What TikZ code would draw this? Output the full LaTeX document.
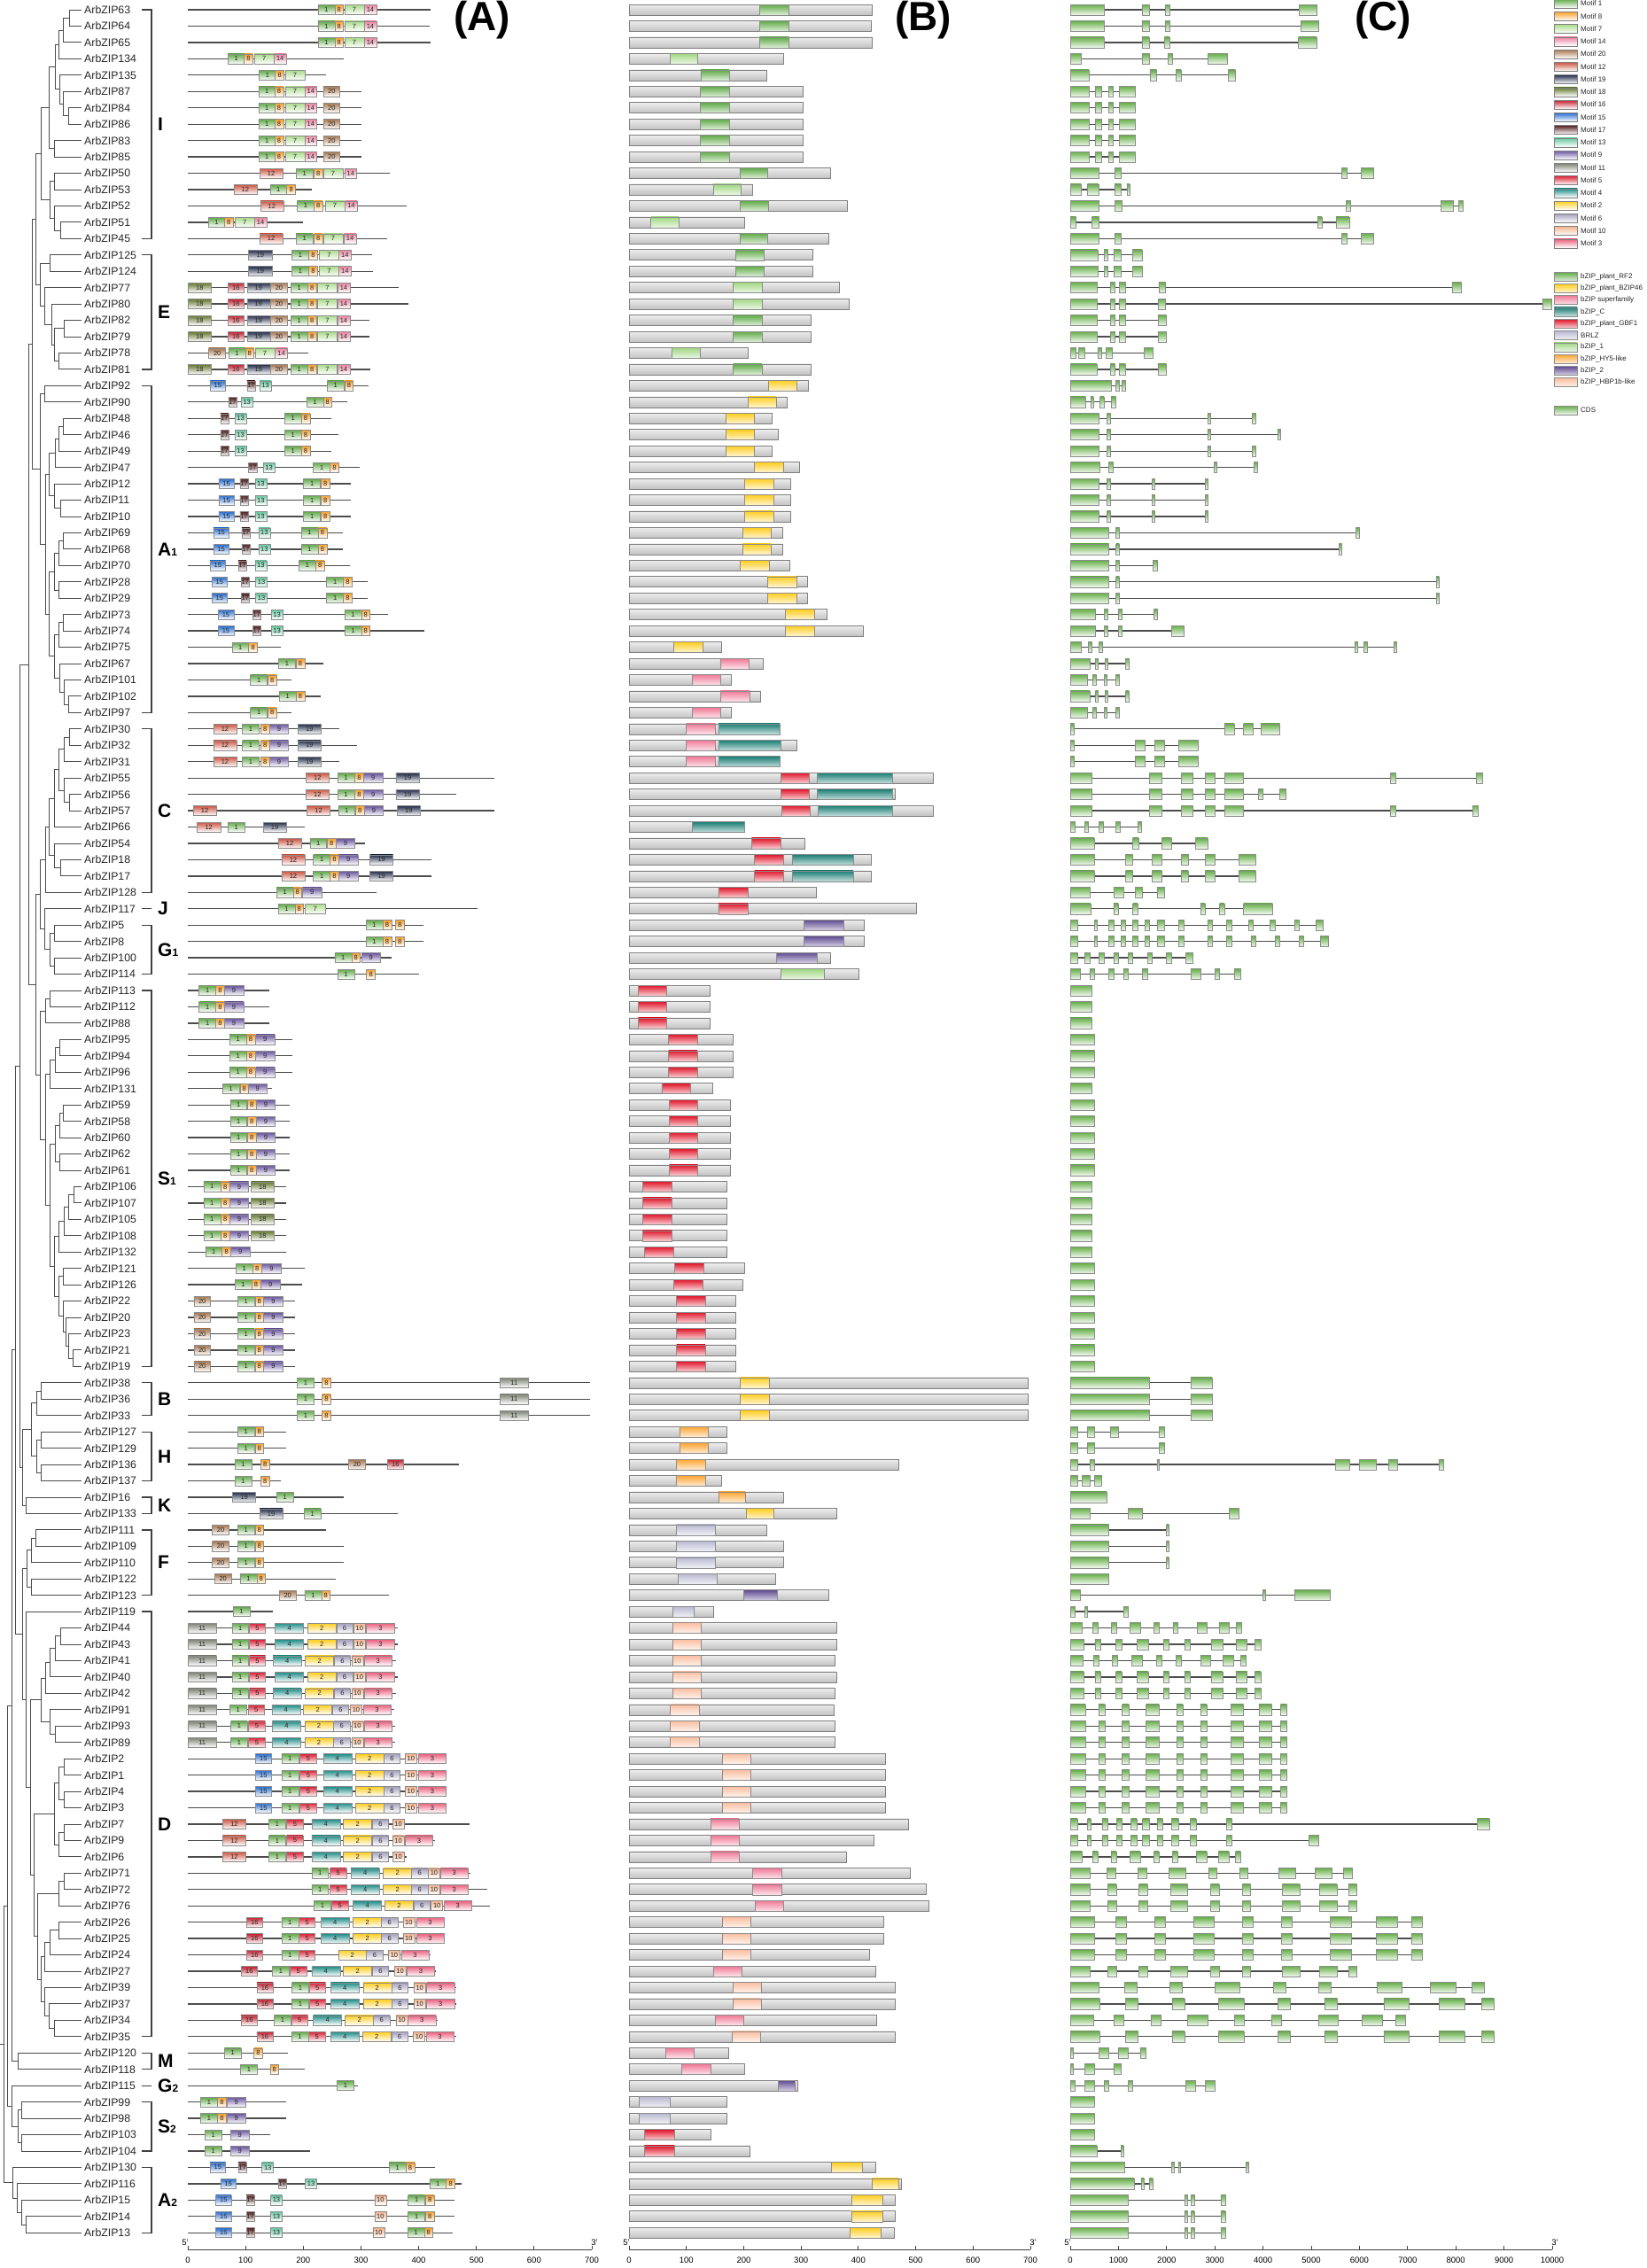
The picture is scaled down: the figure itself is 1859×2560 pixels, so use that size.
\documentclass[tikz,border=0pt]{standalone}
\usepackage{fontspec}
\setmainfont{Liberation Sans}
\definecolor{c1}{RGB}{96,170,70}
\definecolor{c8}{RGB}{250,160,40}
\definecolor{c7}{RGB}{170,220,140}
\definecolor{c14}{RGB}{235,130,160}
\definecolor{c20}{RGB}{170,120,80}
\definecolor{c12}{RGB}{205,85,65}
\definecolor{c19}{RGB}{35,45,75}
\definecolor{c18}{RGB}{100,120,45}
\definecolor{c16}{RGB}{195,30,45}
\definecolor{c15}{RGB}{40,110,210}
\definecolor{c17}{RGB}{85,30,30}
\definecolor{c13}{RGB}{100,200,160}
\definecolor{c9}{RGB}{105,85,160}
\definecolor{c11}{RGB}{125,130,115}
\definecolor{c5}{RGB}{220,30,50}
\definecolor{c4}{RGB}{30,140,135}
\definecolor{c2}{RGB}{255,205,30}
\definecolor{c6}{RGB}{165,160,190}
\definecolor{c10}{RGB}{245,180,140}
\definecolor{c3}{RGB}{235,95,125}
\definecolor{drf2}{RGB}{95,170,70}
\definecolor{db46}{RGB}{255,205,30}
\definecolor{dsup}{RGB}{240,120,150}
\definecolor{dbzc}{RGB}{25,125,115}
\definecolor{dgbf}{RGB}{225,20,40}
\definecolor{dbrlz}{RGB}{185,185,210}
\definecolor{dbz1}{RGB}{160,215,130}
\definecolor{dhy5}{RGB}{255,165,50}
\definecolor{dbz2}{RGB}{95,75,145}
\definecolor{dhbp}{RGB}{250,190,160}
\definecolor{dcds}{RGB}{100,175,70}
\tikzset{
  seq/.style={draw=black!70,line width=1.3pt},
  tree/.style={draw=black!70,line width=0.9pt},
  brk/.style={draw=black!75,line width=1.3pt},
  mbox/.style={draw=black!45,line width=0.5pt,inner sep=0pt,minimum height=11pt,anchor=west,font=\fontsize{7.5}{8}\selectfont,text=black!85},
  m1/.style={top color=c1,bottom color=white,minimum width=18.9pt},
  m8/.style={top color=c8,bottom color=white,minimum width=9.8pt},
  m7/.style={top color=c7,bottom color=white,minimum width=22.2pt},
  m14/.style={top color=c14,bottom color=white,minimum width=13.7pt},
  m20/.style={top color=c20,bottom color=white,minimum width=18.9pt},
  m12/.style={top color=c12,bottom color=white,minimum width=26.1pt},
  m19/.style={top color=c19,bottom color=white,minimum width=26.1pt},
  m18/.style={top color=c18,bottom color=white,minimum width=26.1pt},
  m16/.style={top color=c16,bottom color=white,minimum width=18.3pt},
  m15/.style={top color=c15,bottom color=white,minimum width=17.6pt},
  m17/.style={top color=c17,bottom color=white,minimum width=9.1pt},
  m13/.style={top color=c13,bottom color=white,minimum width=13pt},
  m11/.style={top color=c11,bottom color=white,minimum width=32pt},
  m5/.style={top color=c5,bottom color=white,minimum width=18.3pt},
  m4/.style={top color=c4,bottom color=white,minimum width=32pt},
  m2/.style={top color=c2,bottom color=white,minimum width=32pt},
  m6/.style={top color=c6,bottom color=white,minimum width=18.3pt},
  m10/.style={top color=c10,bottom color=white,minimum width=13pt},
  m3/.style={top color=c3,bottom color=white,minimum width=31.3pt},
  m9/.style={top color=c9,bottom color=white,minimum width=21.5pt},
  bbar/.style={draw=black!50,line width=0.6pt,top color=black!7,bottom color=black!24},
  dom/.style={draw=black!45,line width=0.5pt},
  rf2/.style={top color=drf2,bottom color=drf2!20!white},
  b46/.style={top color=db46,bottom color=db46!20!white},
  sup/.style={top color=dsup,bottom color=dsup!20!white},
  bzc/.style={top color=dbzc,bottom color=dbzc!25!white},
  gbf/.style={top color=dgbf,bottom color=dgbf!20!white},
  brlz/.style={top color=dbrlz,bottom color=dbrlz!20!white},
  bz1/.style={top color=dbz1,bottom color=dbz1!20!white},
  hy5/.style={top color=dhy5,bottom color=dhy5!20!white},
  bz2/.style={top color=dbz2,bottom color=dbz2!25!white},
  hbp/.style={top color=dhbp,bottom color=dhbp!20!white},
  exon/.style={draw=black!45,line width=0.5pt,top color=dcds,bottom color=dcds!8!white},
  gname/.style={anchor=west,inner sep=0pt,font=\fontsize{12.3}{13}\selectfont,text=black!85},
  glab/.style={anchor=west,inner sep=0pt,font=\fontsize{21}{22}\selectfont\bfseries},
  panel/.style={anchor=base,inner sep=0pt,font=\fontsize{46}{48}\selectfont\bfseries},
  leg/.style={anchor=west,inner sep=0pt,font=\fontsize{8}{9}\selectfont,text=black!85},
  tick/.style={inner sep=0pt,font=\fontsize{9.5}{10}\selectfont},
  axis/.style={draw=black!75,line width=0.9pt}
}
\newcommand\Arow[3]{%
  \draw[seq] (212,{ry(#1)}) -- ({212+0.652*#2},{ry(#1)});
  \foreach \m/\s in {#3}{\node[mbox,m\m] (A#1-\m-\s) at ({212+0.652*\s},{ry(#1)}) {\m};}%
}
\newcommand\Brow[3]{%
  \draw[bbar] (710,{ry(#1)-6}) rectangle ({710+0.6466*#2},{ry(#1)+6});
  \foreach \t/\a/\b in {#3}{\draw[dom,\t] ({710+0.6466*\a},{ry(#1)-6}) rectangle ({710+0.6466*\b},{ry(#1)+6});}%
}
\newcommand\Crow[3]{%
  \draw[seq] (1208,{ry(#1)}) -- ({1208+0.05436*#2},{ry(#1)});
  \foreach \a/\b in {#3}{\draw[exon] ({1208+0.05436*\a},{ry(#1)-6}) rectangle ({1208+0.05436*\b},{ry(#1)+6});}%
}
\newcommand\Dg[2]{\Crow{#1}{#2}{0/0.07*#2,0.13*#2/0.16*#2,0.24*#2/0.27*#2,0.35*#2/0.41*#2,0.49*#2/0.52*#2,0.60*#2/0.63*#2,0.74*#2/0.80*#2,0.87*#2/0.93*#2,0.97*#2/#2}}
\newcommand\Tj[4]{%
  \edef\tya{\csname ty@#3\endcsname}\edef\tyb{\csname ty@#4\endcsname}%
  \edef\txa{\csname tx@#3\endcsname}\edef\txb{\csname tx@#4\endcsname}%
  \draw[tree] (\txa,\tya) -- (#2,\tya) -- (#2,\tyb) -- (\txb,\tyb);
  \pgfmathsetmacro\tym{(\tya+\tyb)/2}%
  \expandafter\xdef\csname ty@#1\endcsname{\tym}%
  \expandafter\xdef\csname tx@#1\endcsname{#2}%
}
\newcommand\Grp[4]{%
  \draw[brk] (160,{ry(#1)}) -- (171,{ry(#1)}) -- (171,{ry(#2)}) -- (160,{ry(#2)});
  \node[glab] (g#3#4) at (178,{(ry(#1)+ry(#2))/2}) {#3{\fontsize{12}{12}\selectfont #4}};
}
\newcommand\Axis[5]{%
  \draw[axis] (#1,2539) -- (#2,2539);
  \foreach \k in {0,...,#3}{%
    \pgfmathsetmacro\xx{#1+(#2-#1)*\k/#3}%
    \pgfmathtruncatemacro\lab{\k*#4}%
    \draw[axis] (\xx,2539) -- (\xx,2535);
    \node[tick] (t#5\k) at (\xx,2551) {\lab};}%
  \node[tick] (f#5) at (#1-3,2531) {5'};
  \node[tick] (e#5) at (#2+3,2531) {3'};
}
\begin{document}
\begin{tikzpicture}[x=1pt,y=-1pt,declare function={ry(\r)=11+18.45*(\r-1);}]
\useasboundingbox (0,0) rectangle (1859,2560);
\fill[white] (0,0) rectangle (1859,2560);
% ---------- names ----------
\foreach \nm [count=\i] in {63,64,65,134,135,87,84,86,83,85,50,53,52,51,45,125,124,77,80,82,79,78,81,92,90,48,46,49,47,12,11,10,69,68,70,28,29,73,74,75,67,101,102,97,30,32,31,55,56,57,66,54,18,17,128,117,5,8,100,114,113,112,88,95,94,96,131,59,58,60,62,61,106,107,105,108,132,121,126,22,20,23,21,19,38,36,33,127,129,136,137,16,133,111,109,110,122,123,119,44,43,41,40,42,91,93,89,2,1,4,3,7,9,6,71,72,76,26,25,24,27,39,37,34,35,120,118,115,99,98,103,104,130,116,15,14,13}{%
  \node[gname] (nm\i) at (95,{ry(\i)}) {ArbZIP\nm};
  \pgfmathsetmacro\yy{ry(\i)}%
  \expandafter\xdef\csname ty@r\i\endcsname{\yy}%
  \expandafter\xdef\csname tx@r\i\endcsname{92}%
}
% ---------- tree ----------
\Tj{n1}{78}{r1}{r2}\Tj{n2}{71}{n1}{r3}\Tj{n3}{66}{n2}{r4}\Tj{n4}{77}{r7}{r8}\Tj{n5}{71}{r6}{n4}
\Tj{n6}{67}{r5}{n5}\Tj{n7}{62}{n3}{n6}\Tj{n8}{61}{r9}{r10}\Tj{n9}{55}{n7}{n8}\Tj{n10}{61}{r11}{r12}
\Tj{n11}{68}{r14}{r15}\Tj{n12}{61}{r13}{n11}\Tj{n13}{56}{n10}{n12}\Tj{n14}{46}{n9}{n13}
\Tj{e1}{56}{r16}{r17}\Tj{e2}{72}{r20}{r21}\Tj{e3}{66}{r22}{r23}\Tj{e4}{61}{e2}{e3}\Tj{e5}{58}{r19}{e4}
\Tj{e6}{50}{r18}{e5}\Tj{e7}{45}{e1}{e6}\Tj{ie}{40}{n14}{e7}
\Tj{a1}{50}{r24}{r25}\Tj{a2}{71}{r26}{r27}\Tj{a3}{66}{a2}{r28}\Tj{a4}{62}{a3}{r29}\Tj{a5}{68}{r31}{r32}
\Tj{a6}{61}{r30}{a5}\Tj{a7}{55}{a4}{a6}\Tj{a8}{71}{r33}{r34}\Tj{a9}{66}{a8}{r35}\Tj{a10}{66}{r36}{r37}
\Tj{a11}{61}{a9}{a10}\Tj{a12}{71}{r38}{r39}\Tj{a13}{66}{a12}{r40}\Tj{a14}{77}{r43}{r44}\Tj{a15}{72}{r42}{a14}
\Tj{a16}{67}{r41}{a15}\Tj{a17}{61}{a13}{a16}\Tj{a18}{55}{a11}{a17}\Tj{a19}{51}{a7}{a18}\Tj{a20}{45}{a1}{a19}
\Tj{t1}{36}{ie}{a20}
\Tj{c1}{78}{r45}{r46}\Tj{c2}{72}{c1}{r47}\Tj{c3}{78}{r49}{r50}\Tj{c4}{72}{r48}{c3}\Tj{c5}{66}{c2}{c4}
\Tj{c6}{61}{c5}{r51}\Tj{c7}{68}{r53}{r54}\Tj{c8}{61}{r52}{c7}\Tj{c9}{55}{c6}{c8}\Tj{c10}{51}{c9}{r55}
\Tj{g1}{61}{r57}{r58}\Tj{g2}{61}{r59}{r60}\Tj{g3}{56}{g1}{g2}\Tj{j1}{50}{r56}{g3}\Tj{cj}{45}{c10}{j1}
\Tj{s1}{56}{r61}{r62}\Tj{s2}{51}{s1}{r63}\Tj{s3}{67}{r64}{r65}\Tj{s4}{62}{s3}{r66}\Tj{s5}{56}{s4}{r67}
\Tj{s6}{71}{r68}{r69}\Tj{s6b}{67}{s6}{r70}\Tj{s7}{67}{r71}{r72}\Tj{s9}{62}{s6b}{s7}
\Tj{s11}{83}{r73}{r74}\Tj{s12}{77}{s11}{r75}\Tj{s13}{72}{s12}{r76}\Tj{s14}{66}{s13}{r77}\Tj{s15}{71}{r78}{r79}
\Tj{s16}{82}{r83}{r84}\Tj{s17}{77}{r82}{s16}\Tj{s18}{74}{r81}{s17}\Tj{s19}{71}{r80}{s18}\Tj{s20}{66}{s15}{s19}
\Tj{s21}{61}{s14}{s20}\Tj{s22}{56}{s9}{s21}\Tj{s23}{51}{s5}{s22}\Tj{s24}{45}{s2}{s23}\Tj{cs}{40}{cj}{s24}
\Tj{t2}{32}{t1}{cs}
\Tj{b1}{46}{r85}{r86}\Tj{b2}{41}{b1}{r87}\Tj{h1}{46}{r88}{r89}\Tj{h2}{46}{r90}{r91}\Tj{h3}{41}{h1}{h2}
\Tj{bh}{35}{b2}{h3}\Tj{k1}{29}{r92}{r93}\Tj{bhk}{25}{bh}{k1}\Tj{t3}{22}{t2}{bhk}
\Tj{f1}{40}{r94}{r95}\Tj{f2}{35}{f1}{r96}\Tj{f3}{35}{r97}{r98}\Tj{f4}{30}{f2}{f3}
\Tj{d1}{68}{r100}{r101}\Tj{d2}{62}{d1}{r102}\Tj{d3}{56}{d2}{r103}\Tj{d4}{51}{d3}{r104}\Tj{d5a}{62}{r106}{r107}
\Tj{d5}{56}{r105}{d5a}\Tj{d6}{46}{d4}{d5}\Tj{d7}{72}{r108}{r109}\Tj{d8}{72}{r110}{r111}\Tj{d9}{66}{d7}{d8}
\Tj{d10}{72}{r112}{r113}\Tj{d11}{66}{d10}{r114}\Tj{d12}{61}{d9}{d11}\Tj{d13}{72}{r115}{r116}\Tj{d14}{66}{d13}{r117}
\Tj{d15}{66}{r118}{r119}\Tj{d16}{56}{d15}{r120}\Tj{d17}{50}{d16}{r121}\Tj{d18}{61}{r124}{r125}\Tj{d19}{55}{r123}{d18}
\Tj{d20}{50}{r122}{d19}\Tj{d21}{46}{d17}{d20}\Tj{d22}{42}{d14}{d21}\Tj{d23}{38}{d12}{d22}\Tj{d24}{34}{d6}{d23}
\Tj{d25}{29}{r99}{d24}\Tj{fd}{25}{f4}{d25}\Tj{t4}{17}{t3}{fd}
\Tj{mm}{20}{r126}{r127}\Tj{t5}{13}{t4}{mm}
\Tj{q1}{24}{r129}{r130}\Tj{q2}{24}{r131}{r132}\Tj{q3}{20}{q1}{q2}\Tj{q4}{13}{r128}{q3}\Tj{t6}{8}{t5}{q4}
\Tj{p1}{29}{r136}{r137}\Tj{p2}{24}{r135}{p1}\Tj{p3}{19}{r134}{p2}\Tj{p4}{14}{r133}{p3}\Tj{t7}{4}{t6}{p4}
\draw[tree] (0,\csname ty@t7\endcsname) -- (4,\csname ty@t7\endcsname);
% ---------- groups ----------
\Grp{1}{15}{I}{}\Grp{16}{23}{E}{}\Grp{24}{44}{A}{1}\Grp{45}{55}{C}{}\Grp{56}{56}{J}{}
\Grp{57}{60}{G}{1}\Grp{61}{84}{S}{1}\Grp{85}{87}{B}{}\Grp{88}{91}{H}{}\Grp{92}{93}{K}{}
\Grp{94}{98}{F}{}\Grp{99}{125}{D}{}\Grp{126}{127}{M}{}\Grp{128}{128}{G}{2}\Grp{129}{132}{S}{2}
\Grp{133}{137}{A}{2}
% ---------- panel labels ----------
\node[panel] (PA) at (544,34) {(A)};
\node[panel] (PB) at (1042,34) {(B)};
\node[panel] (PC) at (1561,34) {(C)};
% ---------- (A) motifs ----------
\Arow{1}{420}{1/225,8/254,7/271,14/305}
\Arow{2}{418}{1/225,8/254,7/271,14/305}
\Arow{3}{420}{1/225,8/254,7/271,14/305}
\Arow{4}{270}{1/69,8/97,7/115,14/149}
\Arow{5}{240}{1/123,8/151,7/168}
\Arow{6}{301}{1/122,8/150,7/168,14/202,20/234}
\Arow{7}{301}{1/122,8/150,7/168,14/202,20/234}
\Arow{8}{301}{1/122,8/150,7/168,14/202,20/234}
\Arow{9}{301}{1/122,8/150,7/168,14/202,20/234}
\Arow{10}{300}{1/122,8/150,7/168,14/202,20/234}
\Arow{11}{349}{12/124,1/187,8/218,7/234,14/271}
\Arow{12}{215}{12/79,1/142,8/171}
\Arow{13}{379}{12/125,1/189,8/218,7/237,14/272}
\Arow{14}{200}{1/35,8/63,7/81,14/115}
\Arow{15}{345}{12/124,1/187,8/218,7/234,14/270}
\Arow{16}{319}{19/105,1/180,8/209,7/227,14/261}
\Arow{17}{320}{19/105,1/180,8/209,7/227,14/261}
\Arow{18}{365}{18/0,16/69,19/102,20/143,1/178,8/207,7/224,14/259}
\Arow{19}{382}{18/0,16/69,19/102,20/143,1/178,8/207,7/224,14/259}
\Arow{20}{315}{18/0,16/69,19/102,20/143,1/178,8/207,7/224,14/259}
\Arow{21}{315}{18/0,16/69,19/102,20/143,1/178,8/207,7/224,14/259}
\Arow{22}{208}{20/36,1/70,8/99,7/116,14/151}
\Arow{23}{316}{18/0,16/69,19/102,20/143,1/178,8/207,7/224,14/259}
\Arow{24}{313}{15/38,17/102,13/124,1/241,8/271}
\Arow{25}{276}{17/70,13/92,1/205,8/234}
\Arow{26}{249}{17/56,13/81,1/167,8/196}
\Arow{27}{261}{17/56,13/81,1/167,8/196}
\Arow{28}{249}{17/56,13/81,1/167,8/196}
\Arow{29}{298}{17/105,13/130,1/217,8/246}
\Arow{30}{282}{15/53,17/90,13/116,1/200,8/230}
\Arow{31}{282}{15/53,17/90,13/116,1/200,8/230}
\Arow{32}{282}{15/53,17/90,13/116,1/200,8/230}
\Arow{33}{268}{15/44,17/93,13/122,1/196,8/225}
\Arow{34}{268}{15/44,17/93,13/122,1/196,8/225}
\Arow{35}{280}{15/38,17/87,13/116,1/192,8/221}
\Arow{36}{311}{15/41,17/92,13/117,1/240,8/269}
\Arow{37}{311}{15/41,17/92,13/117,1/240,8/269}
\Arow{38}{346}{15/52,17/112,13/144,1/271,8/300}
\Arow{39}{409}{15/52,17/112,13/144,1/271,8/300}
\Arow{40}{161}{1/76,8/105}
\Arow{41}{234}{1/157,8/187}
\Arow{42}{179}{1/108,8/138}
\Arow{43}{230}{1/158,8/187}
\Arow{44}{179}{1/108,8/138}
\Arow{45}{263}{12/44,1/94,8/126,9/141,19/190}
\Arow{46}{293}{12/44,1/94,8/126,9/141,19/190}
\Arow{47}{263}{12/44,1/94,8/126,9/141,19/190}
\Arow{48}{531}{12/204,1/259,8/289,9/304,19/360}
\Arow{49}{465}{12/204,1/259,8/289,9/304,19/360}
\Arow{50}{531}{12/9,12/206,1/260,8/290,9/305,19/362}
\Arow{51}{202}{12/16,1/69,19/130}
\Arow{52}{307}{12/156,1/211,8/241,9/256}
\Arow{53}{422}{12/162,1/217,8/246,9/261,19/315}
\Arow{54}{422}{12/162,1/217,8/246,9/261,19/315}
\Arow{55}{326}{1/153,8/182,9/198}
\Arow{56}{501}{1/156,8/185,7/203}
\Arow{57}{408}{1/308,8/337,8/359}
\Arow{58}{408}{1/308,8/337,8/359}
\Arow{59}{352}{1/254,8/283,9/300}
\Arow{60}{401}{1/259,8/309}
\Arow{61}{141}{1/19,8/48,9/63}
\Arow{62}{141}{1/19,8/48,9/63}
\Arow{63}{141}{1/19,8/48,9/63}
\Arow{64}{181}{1/72,8/101,9/117}
\Arow{65}{181}{1/72,8/101,9/117}
\Arow{66}{181}{1/72,8/101,9/117}
\Arow{67}{146}{1/60,8/90,9/104}
\Arow{68}{176}{1/73,8/103,9/118}
\Arow{69}{176}{1/73,8/103,9/118}
\Arow{70}{176}{1/73,8/103,9/118}
\Arow{71}{176}{1/73,8/103,9/118}
\Arow{72}{176}{1/73,8/103,9/118}
\Arow{73}{171}{1/27,8/57,9/72,18/109}
\Arow{74}{171}{1/27,8/57,9/72,18/109}
\Arow{75}{171}{1/27,8/57,9/72,18/109}
\Arow{76}{171}{1/27,8/57,9/72,18/109}
\Arow{77}{171}{1/30,8/59,9/74}
\Arow{78}{202}{1/83,8/112,9/128}
\Arow{79}{198}{1/81,8/110,9/126}
\Arow{80}{186}{20/10,1/86,8/116,9/131}
\Arow{81}{186}{20/10,1/86,8/116,9/131}
\Arow{82}{186}{20/10,1/86,8/116,9/131}
\Arow{83}{186}{20/10,1/86,8/116,9/131}
\Arow{84}{186}{20/10,1/86,8/116,9/131}
\Arow{85}{696}{1/189,8/232,11/540}
\Arow{86}{696}{1/189,8/232,11/540}
\Arow{87}{696}{1/189,8/232,11/540}
\Arow{88}{170}{1/86,8/116}
\Arow{89}{170}{1/86,8/116}
\Arow{90}{470}{1/81,8/126,20/278,16/345}
\Arow{91}{161}{1/81,8/126}
\Arow{92}{270}{19/77,1/153}
\Arow{93}{363}{19/124,1/201}
\Arow{94}{240}{20/42,1/86,8/116}
\Arow{95}{270}{20/42,1/86,8/116}
\Arow{96}{270}{20/42,1/86,8/116}
\Arow{97}{256}{20/46,1/90,8/119}
\Arow{98}{348}{20/158,1/202,8/231}
\Arow{99}{147}{1/78}
\Arow{100}{363}{11/0,1/76,5/106,4/151,2/207,6/257,10/287,3/309}
\Arow{101}{363}{11/0,1/76,5/106,4/151,2/207,6/257,10/287,3/309}
\Arow{102}{360}{11/0,1/76,5/106,4/147,2/203,6/253,10/283,3/305}
\Arow{103}{363}{11/0,1/76,5/106,4/151,2/207,6/257,10/287,3/309}
\Arow{104}{360}{11/0,1/76,5/106,4/147,2/203,6/253,10/283,3/305}
\Arow{105}{357}{11/0,1/72,5/104,4/145,2/200,6/250,10/281,3/303}
\Arow{106}{359}{11/0,1/74,5/105,4/146,2/202,6/252,10/283,3/305}
\Arow{107}{359}{11/0,1/74,5/105,4/146,2/202,6/252,10/283,3/305}
\Arow{108}{447}{15/117,1/162,5/194,4/234,2/290,6/339,10/376,3/399}
\Arow{109}{447}{15/117,1/162,5/194,4/234,2/290,6/339,10/376,3/399}
\Arow{110}{447}{15/117,1/162,5/194,4/234,2/290,6/339,10/376,3/399}
\Arow{111}{447}{15/117,1/162,5/194,4/234,2/290,6/339,10/376,3/399}
\Arow{112}{488}{12/60,1/140,5/171,4/214,2/269,6/319,10/354}
\Arow{113}{428}{12/60,1/140,5/171,4/214,2/269,6/319,10/354,3/376}
\Arow{114}{379}{12/60,1/140,5/171,4/214,2/269,6/319,10/354}
\Arow{115}{490}{1/214,5/246,4/282,2/338,6/387,10/416,3/437}
\Arow{116}{519}{1/214,5/246,4/282,2/338,6/387,10/416,3/437}
\Arow{117}{523}{1/218,5/249,4/286,2/341,6/391,10/421,3/443}
\Arow{118}{445}{16/101,1/162,5/192,4/230,2/286,6/335,10/372,3/395}
\Arow{119}{445}{16/101,1/162,5/192,4/230,2/286,6/335,10/372,3/395}
\Arow{120}{420}{16/101,1/162,5/192,2/260,6/309,10/347,3/369}
\Arow{121}{430}{16/92,1/146,5/177,4/214,2/269,6/319,10/357,3/379}
\Arow{122}{464}{16/119,1/180,5/210,4/247,2/303,6/353,10/391,3/413}
\Arow{123}{464}{16/119,1/180,5/210,4/247,2/303,6/353,10/391,3/413}
\Arow{124}{432}{16/92,1/149,5/179,4/217,2/272,6/321,10/360,3/381}
\Arow{125}{464}{16/119,1/179,5/209,4/247,2/302,6/352,10/390,3/412}
\Arow{126}{174}{1/63,8/114}
\Arow{127}{202}{1/91,8/142}
\Arow{128}{294}{1/258}
\Arow{129}{170}{1/22,8/51,9/67}
\Arow{130}{170}{1/22,8/51,9/67}
\Arow{131}{142}{1/29,9/73}
\Arow{132}{211}{1/29,9/73}
\Arow{133}{428}{15/38,17/87,13/128,1/348,8/377}
\Arow{134}{474}{15/56,17/156,13/203,1/418,8/447}
\Arow{135}{462}{15/48,17/101,13/143,10/323,1/381,8/411}
\Arow{136}{462}{15/48,17/101,13/143,10/323,1/381,8/411}
\Arow{137}{459}{15/48,17/101,13/143,10/320,1/380,8/409}
% ---------- (B) domains ----------
\Brow{1}{424}{rf2/228/279}\Brow{2}{422}{rf2/228/279}\Brow{3}{424}{rf2/228/279}
\Brow{4}{270}{bz1/72/120}\Brow{5}{240}{rf2/125/175}
\Brow{6}{304}{rf2/124/175}\Brow{7}{304}{rf2/124/175}\Brow{8}{304}{rf2/124/175}\Brow{9}{304}{rf2/124/175}\Brow{10}{303}{rf2/124/175}
\Brow{11}{352}{rf2/193/242}\Brow{12}{215}{bz1/147/196}\Brow{13}{381}{rf2/193/243}\Brow{14}{202}{bz1/38/87}\Brow{15}{348}{rf2/193/242}
\Brow{16}{321}{rf2/186/236}\Brow{17}{321}{rf2/186/236}\Brow{18}{367}{bz1/182/232}\Brow{19}{384}{bz1/182/232}
\Brow{20}{317}{rf2/182/232}\Brow{21}{317}{rf2/182/232}\Brow{22}{208}{bz1/74/124}\Brow{23}{318}{rf2/182/232}
\Brow{24}{313}{b46/243/293}\Brow{25}{276}{b46/207/257}\Brow{26}{249}{b46/169/219}\Brow{27}{261}{b46/169/219}
\Brow{28}{249}{b46/169/219}\Brow{29}{298}{b46/219/269}\Brow{30}{282}{b46/202/252}\Brow{31}{282}{b46/202/252}
\Brow{32}{282}{b46/202/252}\Brow{33}{268}{b46/198/248}\Brow{34}{268}{b46/198/248}\Brow{35}{280}{b46/194/244}
\Brow{36}{311}{b46/242/292}\Brow{37}{311}{b46/242/292}\Brow{38}{346}{b46/273/323}\Brow{39}{409}{b46/273/323}
\Brow{40}{161}{b46/78/128}\Brow{41}{234}{sup/159/209}\Brow{42}{179}{sup/110/160}\Brow{43}{230}{sup/160/210}\Brow{44}{179}{sup/110/160}
\Brow{45}{263}{sup/100/151,bzc/156/263}\Brow{46}{293}{sup/100/151,bzc/156/265}\Brow{47}{263}{sup/100/151,bzc/156/263}
\Brow{48}{531}{gbf/265/315,bzc/328/459}\Brow{49}{465}{gbf/265/315,bzc/328/459}\Brow{50}{531}{gbf/266/316,bzc/330/460}
\Brow{51}{202}{bzc/110/202}\Brow{52}{307}{gbf/214/265}
\Brow{53}{422}{gbf/219/270,bzc/285/391}\Brow{54}{422}{gbf/219/270,bzc/285/391}
\Brow{55}{326}{gbf/156/207}\Brow{56}{501}{gbf/156/207}
\Brow{57}{411}{bz2/305/374}\Brow{58}{411}{bz2/305/374}\Brow{59}{352}{bz2/257/328}\Brow{60}{401}{bz1/265/340}
\Brow{61}{141}{gbf/16/66}\Brow{62}{141}{gbf/16/66}\Brow{63}{141}{gbf/16/66}
\Brow{64}{181}{gbf/69/119}\Brow{65}{181}{gbf/69/119}\Brow{66}{181}{gbf/69/119}\Brow{67}{146}{gbf/57/107}
\Brow{68}{176}{gbf/70/120}\Brow{69}{176}{gbf/70/120}\Brow{70}{176}{gbf/70/120}\Brow{71}{176}{gbf/70/120}\Brow{72}{176}{gbf/70/120}
\Brow{73}{171}{gbf/24/74}\Brow{74}{171}{gbf/24/74}\Brow{75}{171}{gbf/24/74}\Brow{76}{171}{gbf/24/74}\Brow{77}{171}{gbf/27/77}
\Brow{78}{202}{gbf/80/130}\Brow{79}{198}{gbf/78/128}
\Brow{80}{186}{gbf/83/133}\Brow{81}{186}{gbf/83/133}\Brow{82}{186}{gbf/83/133}\Brow{83}{186}{gbf/83/133}\Brow{84}{186}{gbf/83/133}
\Brow{85}{696}{b46/194/244}\Brow{86}{696}{b46/194/244}\Brow{87}{696}{b46/194/244}
\Brow{88}{170}{hy5/88/138}\Brow{89}{170}{hy5/88/138}\Brow{90}{470}{hy5/83/133}\Brow{91}{161}{hy5/83/133}
\Brow{92}{270}{hy5/156/203}\Brow{93}{363}{b46/204/252}
\Brow{94}{240}{brlz/82/150}\Brow{95}{270}{brlz/82/150}\Brow{96}{270}{brlz/82/150}\Brow{97}{256}{brlz/86/154}\Brow{98}{348}{bz2/200/258}
\Brow{99}{147}{brlz/76/114}
\Brow{100}{363}{hbp/76/126}\Brow{101}{363}{hbp/76/126}\Brow{102}{360}{hbp/76/126}\Brow{103}{363}{hbp/76/126}
\Brow{104}{360}{hbp/76/126}\Brow{105}{357}{hbp/72/122}\Brow{106}{359}{hbp/72/122}\Brow{107}{359}{hbp/72/122}
\Brow{108}{447}{hbp/163/213}\Brow{109}{447}{hbp/163/213}\Brow{110}{447}{hbp/163/213}\Brow{111}{447}{hbp/163/213}
\Brow{112}{488}{sup/142/192}\Brow{113}{428}{sup/142/192}\Brow{114}{379}{sup/142/192}
\Brow{115}{490}{sup/216/266}\Brow{116}{519}{sup/216/266}\Brow{117}{523}{sup/220/270}
\Brow{118}{445}{hbp/163/213}\Brow{119}{445}{hbp/163/213}\Brow{120}{420}{hbp/163/213}\Brow{121}{430}{sup/147/197}
\Brow{122}{464}{hbp/181/231}\Brow{123}{464}{hbp/181/231}\Brow{124}{432}{sup/150/200}\Brow{125}{464}{hbp/180/230}
\Brow{126}{174}{sup/64/114}\Brow{127}{202}{sup/92/142}\Brow{128}{294}{bz2/260/290}
\Brow{129}{170}{brlz/18/72}\Brow{130}{170}{brlz/18/72}\Brow{131}{142}{gbf/27/80}\Brow{132}{211}{gbf/27/80}
\Brow{133}{431}{b46/353/407}\Brow{134}{476}{b46/424/471}\Brow{135}{465}{b46/388/442}\Brow{136}{465}{b46/388/442}\Brow{137}{463}{b46/386/440}
% ---------- (C) gene structure ----------
\Crow{1}{5120}{0/700,1488/1633,1968/2066,4759/5120}
\Crow{2}{5147}{0/700,1488/1633,1980/2066,4785/5147}
\Crow{3}{5110}{0/700,1488/1633,1955/2060,4740/5110}
\Crow{4}{3262}{0/227,1488/1633,2027/2125,2854/3262}
\Crow{5}{3426}{0/385,1652/1797,2191/2296,3281/3426}
\Crow{6}{1344}{0/385,516/648,792/884,1015/1344}
\Crow{7}{1344}{0/385,516/648,792/884,1015/1344}
\Crow{8}{1344}{0/385,516/648,792/884,1015/1344}
\Crow{9}{1344}{0/385,516/648,792/884,1015/1344}
\Crow{10}{1344}{0/385,516/648,792/884,1015/1344}
\Crow{11}{6296}{0/588,917/1061,5639/5744,6033/6296}
\Crow{12}{1232}{0/227,358/588,917/1061,1173/1232}
\Crow{13}{8155}{0/588,930/1075,5724/5823,7695/7958,8069/8155}
\Crow{14}{5790}{0/122,450/601,5133/5219,5514/5790}
\Crow{15}{6296}{0/588,917/1061,5639/5744,6033/6296}
\Crow{16}{1488}{0/569,700/786,897/1048,1291/1488}
\Crow{17}{1488}{0/569,700/786,897/1048,1291/1488}
\Crow{18}{8109}{0/549,831/930,1015/1147,1836/1981,7925/8109}
\Crow{19}{9990}{0/549,831/930,1015/1147,1817/1981,9800/9990}
\Crow{20}{1994}{0/549,831/930,1015/1147,1817/1994}
\Crow{21}{1994}{0/549,831/930,1015/1147,1817/1994}
\Crow{22}{1718}{0/122,175/306,569/654,746/877,1534/1718}
\Crow{23}{1994}{0/549,831/930,1015/1147,1817/1994}
\Crow{24}{1150}{0/850,950/1010,1080/1150}
\Crow{25}{950}{0/320,420/480,620/700,850/950}
\Crow{26}{3850}{0/600,760/840,2850/2910,3780/3850}
\Crow{27}{4370}{0/600,760/840,2850/2910,4300/4370}
\Crow{28}{3850}{0/600,760/840,2850/2910,3780/3850}
\Crow{29}{3890}{0/620,800/880,2980/3040,3820/3890}
\Crow{30}{2860}{0/600,760/840,1700/1760,2800/2860}
\Crow{31}{2860}{0/600,760/840,1700/1760,2800/2860}
\Crow{32}{2860}{0/600,760/840,1700/1760,2800/2860}
\Crow{33}{6000}{0/800,950/1020,5930/6000}
\Crow{34}{5640}{0/800,950/1020,5580/5640}
\Crow{35}{1800}{0/800,950/1020,1720/1800}
\Crow{36}{7660}{0/800,950/1020,7600/7660}
\Crow{37}{7660}{0/800,950/1020,7600/7660}
\Crow{38}{1800}{0/520,700/780,1000/1070,1740/1800}
\Crow{39}{2350}{0/520,700/780,1000/1070,2100/2350}
\Crow{40}{6780}{0/220,380/440,600/660,5900/5960,6100/6160,6720/6780}
\Crow{41}{1210}{0/400,520/580,720/780,1150/1210}
\Crow{42}{1010}{0/350,470/530,700/760,950/1010}
\Crow{43}{1210}{0/400,520/580,720/780,1150/1210}
\Crow{44}{1010}{0/350,470/530,700/760,950/1010}
\Crow{45}{4350}{0/80,3200/3400,3600/3800,3950/4350}
\Crow{46}{2650}{0/80,1350/1550,1750/1950,2250/2650}
\Crow{47}{2650}{0/80,1350/1550,1750/1950,2250/2650}
\Crow{48}{8560}{0/450,1650/1900,2300/2550,2800/3000,3200/3600,6650/6750,8420/8560}
\Crow{49}{4480}{0/450,1650/1900,2300/2550,2800/3000,3200/3600,3900/4000,4350/4480}
\Crow{50}{8470}{0/450,1650/1900,2300/2550,2800/3000,3200/3600,6650/6750,8350/8470}
\Crow{51}{1480}{0/90,300/380,600/680,950/1030,1400/1480}
\Crow{52}{2850}{0/500,1300/1420,1900/2100,2600/2850}
\Crow{53}{3850}{0/500,1150/1300,1700/1900,2300/2450,2800/3000,3500/3850}
\Crow{54}{3850}{0/500,1150/1300,1700/1900,2300/2450,2800/3000,3500/3850}
\Crow{55}{1950}{0/400,900/1100,1350/1500,1800/1950}
\Crow{56}{4200}{0/420,900/1000,1300/1400,2700/2800,3100/3200,3600/4200}
\Crow{57}{5250}{0/150,500/560,800/900,1050/1150,1300/1400,1550/1650,1800/1950,2250/2350,2850/2950,3250/3350,3700/3800,4150/4250,4650/4750,5100/5250}
\Crow{58}{5350}{0/150,500/560,800/900,1050/1150,1300/1400,1550/1650,1800/1950,2250/2350,2850/2950,3250/3350,3750/3850,4250/4350,4750/4850,5200/5350}
\Crow{59}{2550}{0/150,300/400,600/700,900/1000,1200/1300,1600/1700,2000/2100,2400/2550}
\Crow{60}{3540}{0/200,400/500,800/900,1100/1200,1500/1600,2500/2700,3000/3100,3400/3540}
\Crow{61}{450}{0/450}\Crow{62}{450}{0/450}\Crow{63}{450}{0/450}
\Crow{64}{510}{0/510}\Crow{65}{510}{0/510}\Crow{66}{510}{0/510}\Crow{67}{450}{0/450}
\Crow{68}{510}{0/510}\Crow{69}{510}{0/510}\Crow{70}{510}{0/510}\Crow{71}{510}{0/510}\Crow{72}{510}{0/510}
\Crow{73}{450}{0/450}\Crow{74}{450}{0/450}\Crow{75}{450}{0/450}\Crow{76}{450}{0/450}\Crow{77}{450}{0/450}
\Crow{78}{510}{0/510}\Crow{79}{510}{0/510}
\Crow{80}{510}{0/510}\Crow{81}{510}{0/510}\Crow{82}{510}{0/510}\Crow{83}{510}{0/510}\Crow{84}{510}{0/510}
\Crow{85}{2940}{0/1650,2500/2940}\Crow{86}{2940}{0/1650,2500/2940}\Crow{87}{2940}{0/1650,2500/2940}
\Crow{88}{1950}{0/150,360/500,840/990,1850/1950}
\Crow{89}{1950}{0/150,350/500,1850/1950}
\Crow{90}{7750}{0/150,400/500,1800/1850,5500/5800,6000/6350,6600/6800,7650/7750}
\Crow{91}{650}{0/150,250/400,500/650}
\Crow{92}{750}{0/750}
\Crow{93}{3500}{0/400,1200/1500,3300/3500}
\Crow{94}{2050}{0/800,2000/2050}\Crow{95}{2050}{0/800,2000/2050}\Crow{96}{2050}{0/800,2000/2050}
\Crow{97}{800}{0/800}
\Crow{98}{5400}{0/200,4000/4050,4650/5400}
\Crow{99}{1200}{0/100,300/350,1100/1200}
\Dg{100}{3550}\Dg{101}{3950}\Dg{102}{3650}\Dg{103}{3950}\Dg{104}{3950}\Dg{105}{4500}\Dg{106}{4500}\Dg{107}{4500}
\Dg{108}{4500}\Dg{109}{4500}\Dg{110}{4500}\Dg{111}{4500}
\Crow{112}{8700}{0/150,360/420,660/780,960/1080,1260/1380,1500/1650,1800/1920,2100/2250,2490/2610,3240/3360,8450/8700}
\Crow{113}{5160}{0/150,360/420,660/780,960/1080,1260/1380,1500/1650,1800/1920,2100/2250,2490/2610,3240/3360,4950/5160}
\Dg{114}{3540}
\Dg{115}{5850}\Dg{116}{5950}\Dg{117}{5950}\Dg{118}{7300}\Dg{119}{7300}\Dg{120}{7300}\Dg{121}{5950}
\Dg{122}{8600}\Dg{123}{8800}\Dg{124}{6960}\Dg{125}{8800}
\Crow{126}{1560}{0/60,600/800,1000/1200,1450/1560}
\Crow{127}{1050}{0/60,300/500,900/1050}
\Crow{128}{3000}{0/100,300/500,700/800,1200/1300,2400/2600,2800/3000}
\Crow{129}{500}{0/500}\Crow{130}{500}{0/500}\Crow{131}{500}{0/500}
\Crow{132}{1100}{0/550,1050/1100}
\Crow{133}{3700}{0/1120,2100/2150,2240/2290,3640/3700}
\Crow{134}{1713}{0/1330,1467/1535,1645/1713}
\Crow{135}{3221}{0/1206,2372/2440,2509/2577,3125/3221}
\Crow{136}{3221}{0/1206,2372/2440,2509/2577,3125/3221}
\Crow{137}{3221}{0/1206,2372/2440,2509/2577,3125/3221}
% ---------- legends ----------
\foreach \k [count=\j from 0] in {1,8,7,14,20,12,19,18,16,15,17,13,9,11,5,4,2,6,10,3}{%
  \pgfmathsetmacro\ly{4+14.25*\j}%
  \draw[draw=black!50,line width=0.5pt,top color=c\k,bottom color=white] (1754,\ly-5) rectangle (1780,\ly+5);
  \node[leg] (lm\j) at (1784,\ly) {Motif \k};}
\foreach \t/\lab [count=\j from 0] in {rf2/bZIP\_plant\_RF2,b46/bZIP\_plant\_BZIP46,sup/bZIP superfamily,bzc/bZIP\_C,gbf/bZIP\_plant\_GBF1,brlz/BRLZ,bz1/bZIP\_1,hy5/bZIP\_HY5-like,bz2/bZIP\_2,hbp/bZIP\_HBP1b-like}{%
  \pgfmathsetmacro\ly{312+13.3*\j}%
  \draw[dom,\t] (1754,\ly-5) rectangle (1780,\ly+5);
  \node[leg] (ld\j) at (1784,\ly) {\lab};}
\draw[exon] (1754,458) rectangle (1780,468);
\node[leg] (lcds) at (1784,463) {CDS};
% ---------- axes ----------
\Axis{212}{668}{7}{100}{a}
\Axis{710}{1163}{7}{100}{b}
\Axis{1208}{1752}{10}{1000}{c}
\end{tikzpicture}
\end{document}
